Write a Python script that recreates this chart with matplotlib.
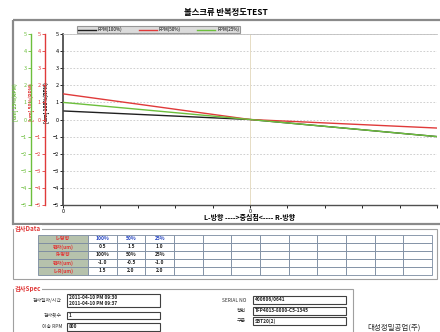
import numpy as np
import matplotlib.pyplot as plt
from matplotlib.patches import Rectangle

plt.rcParams['font.family'] = ['Noto Sans CJK KR', 'DejaVu Sans']

W, H = 440, 332

# 측정 위치: L-끝, 중심점, R-끝
positions = [0, 1, 2]
series_names = ['RPM(100%)', 'RPM(50%)', 'RPM(25%)']
dev_100 = [0.5, 0.0, -1.0]
dev_50 = [1.5, 0.0, -0.5]
dev_25 = [1.0, 0.0, -1.0]
axis_labels = ['[um] 100%(RPM)', '[um] 50%(RPM)', '[um] 25%(RPM)']
y_ticks = [5, 4, 3, 2, 1, 0, -1, -2, -3, -4, -5]

# 검사 Data 표
rate_labels = ['100%', '50%', '25%']
row_labels = ['L-방향', '편차(um)', 'R-방향', '편차(um)', 'L-R(um)']

# 검사 Spec
spec_time = ['2011-04-10 PM 09:30', '2011-04-10 PM 09:37']
spec_count = '1'
spec_rpm = '800'
serial_no = '400606/0641'
model_no = 'TFP4013-8000-C5-1345'
spec_type = 'SBT20(2)'

BLACK = '#202020'
RED = '#e03a3a'
GREEN = '#6cbf3c'


def px_rect(left, top, right, bottom):
    """픽셀 좌표를 figure 좌표로 변환"""
    return [left / W, 1 - bottom / H, (right - left) / W, (bottom - top) / H]


def setup_axis(a, color, offset, label, label_x):
    a.set_ylim(-5, 5)
    a.set_yticks(y_ticks)
    a.yaxis.set_ticks_position('left')
    a.spines['left'].set_position(('outward', offset))
    a.spines['left'].set_color(color)
    a.spines['left'].set_linewidth(1.0)
    for s in ['top', 'right', 'bottom']:
        a.spines[s].set_visible(False)
    a.tick_params(axis='y', colors=color, labelsize=4, length=2, pad=1, width=0.6)
    a.set_ylabel(label, fontsize=3.5, color=color, fontweight='bold')
    a.yaxis.set_label_position('left')
    a.yaxis.set_label_coords(label_x, 0.6)


fig = plt.figure(figsize=(W / 100, H / 100), dpi=100)
fig.patch.set_facecolor('white')

# 배경 (픽셀 좌표)
bg = fig.add_axes([0, 0, 1, 1])
bg.set_xlim(0, W)
bg.set_ylim(H, 0)
bg.axis('off')

bg.text(226, 13, '볼스크류 반복정도TEST', ha='center', va='center', fontsize=6, fontweight='bold')
bg.add_patch(Rectangle((13, 20), 440, 204, fill=False, ec='#8a8a8a', lw=1.6))

# 그래프
ax = fig.add_axes(px_rect(63, 34, 437, 205))
ax.patch.set_alpha(0)
ax.set_xlim(positions[0], positions[-1])
ax.set_ylim(-5, 5)
ax.set_yticks(y_ticks)
ax.yaxis.grid(True, linestyle=(0, (2, 2)), color='#c8c8c8', linewidth=0.6)
ax.axvline(positions[1], color='#e6dcc4', linewidth=0.7)
ax.set_xticks(np.linspace(positions[0], positions[-1], 11))
ax.set_xticklabels(['0' if i in (0, 5) else '' for i in range(11)])
ax.tick_params(axis='x', labelsize=4, length=2, pad=1, width=0.6)
ax.tick_params(axis='y', labelsize=4, length=2, pad=1, width=0.6)
ax.spines['right'].set_visible(False)
ax.spines['top'].set_color('#c0c0c0')
ax.spines['top'].set_linewidth(0.6)
ax.spines['left'].set_color('#404040')
ax.spines['left'].set_linewidth(1.2)
ax.spines['bottom'].set_color('#505050')
ax.spines['bottom'].set_linewidth(1.0)
ax.set_ylabel(axis_labels[0], fontsize=3.5, fontweight='bold')
ax.yaxis.set_label_coords(-0.035, 0.6)
ax.set_xlabel('L-방향 ---->중심점<---- R-방향', fontsize=5, labelpad=0, fontweight='bold')

ax_r = ax.twinx()
setup_axis(ax_r, RED, 13, axis_labels[1], -0.075)
ax_g = ax.twinx()
setup_axis(ax_g, GREEN, 23, axis_labels[2], -0.118)

l1, = ax.plot(positions, dev_100, color=BLACK, linewidth=1.0)
l2, = ax_r.plot(positions, dev_50, color=RED, linewidth=1.0)
l3, = ax_g.plot(positions, dev_25, color=GREEN, linewidth=1.0)

leg = fig.legend([l1, l2, l3], series_names, ncol=3, mode='expand', loc='lower left',
                 bbox_to_anchor=(77 / W, 1 - 33 / H, 163 / W, 9 / H),
                 bbox_transform=fig.transFigure, fontsize=3.3, frameon=True,
                 fancybox=False, facecolor='#d2d2d2', edgecolor='#808080',
                 handlelength=4, borderpad=0.15, handletextpad=0.4, borderaxespad=0)
leg.get_frame().set_linewidth(0.8)

# 검사 Data
bg.add_patch(Rectangle((13, 229), 424, 50, fill=False, ec='#a0a0a0', lw=0.8))
bg.text(15, 229, '검사Data', color=RED, fontsize=4.5, fontweight='bold', va='center',
        bbox=dict(facecolor='white', edgecolor='none', pad=0.5))

l_dev = [d[0] for d in (dev_100, dev_50, dev_25)]
r_dev = [d[-1] for d in (dev_100, dev_50, dev_25)]
lr_dev = [a - b for a, b in zip(l_dev, r_dev)]
table_rows = [
    (rate_labels, '#2040c0'),
    (['%.1f' % v for v in l_dev], BLACK),
    (rate_labels, BLACK),
    (['%.1f' % v for v in r_dev], BLACK),
    (['%.1f' % v for v in lr_dev], BLACK),
]
t_left, t_top, row_h = 38, 235, 8
first_w, col_w, n_cols = 50, (432 - 88) / 12, 12
for r, (vals, tc) in enumerate(table_rows):
    y = t_top + r * row_h
    bg.add_patch(Rectangle((t_left, y), first_w, row_h, fc='#b6c2ac', ec='#7a8aa0', lw=0.6))
    bg.text(t_left + first_w / 2, y + row_h / 2, row_labels[r], color=RED, fontsize=3.6,
            fontweight='bold', ha='center', va='center')
    for c in range(n_cols):
        x = t_left + first_w + c * col_w
        bg.add_patch(Rectangle((x, y), col_w, row_h, fc='white', ec='#7a8aa0', lw=0.6))
        if c < len(vals):
            bg.text(x + col_w / 2, y + row_h / 2, vals[c], color=tc, fontsize=3.6,
                    fontweight='bold', ha='center', va='center')

# 검사 Spec
bg.add_patch(Rectangle((13, 289), 340, 60, fill=False, ec='#a0a0a0', lw=0.8))
bg.text(15, 289, '검사Spec', color=RED, fontsize=4.5, fontweight='bold', va='center',
        bbox=dict(facecolor='white', edgecolor='none', pad=0.5))


def field(label, label_x, box_left, box_right, top, bottom, lines):
    bg.text(label_x, (top + bottom) / 2, label, fontsize=3.5, ha='right', va='center', color='#303030')
    bg.add_patch(Rectangle((box_left, top), box_right - box_left, bottom - top,
                           fc='white', ec='#404040', lw=0.8))
    n = len(lines)
    for i, s in enumerate(lines):
        yy = top + (bottom - top) * (i + 0.5) / n
        bg.text(box_left + 2, yy, s, fontsize=3.4, va='center', color='#202020', fontweight='bold')


field('검사일자/시간', 62, 67, 160, 294, 307, spec_time)
field('검사횟수', 62, 67, 160, 312, 319, [spec_count])
field('이송 RPM', 62, 67, 160, 323, 331, [spec_rpm])
field('SERIAL NO', 246, 253, 346, 296, 304, [serial_no])
field('형번', 246, 253, 346, 307, 315, [model_no])
field('구분', 246, 253, 346, 317, 325, [spec_type])

bg.text(394, 328, '대성정밀공업(주)', fontsize=5.4, ha='center', va='center', color='#303030')

fig.savefig('out.png', dpi=100)
